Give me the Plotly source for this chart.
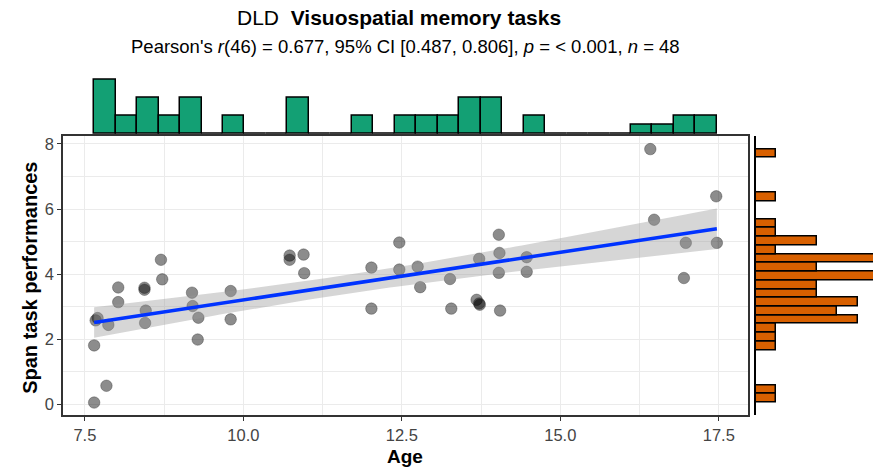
import numpy as np
import plotly.graph_objects as go

# ---- data ----
age = [7.646, 7.84, 7.646, 7.70, 7.67, 7.87, 8.026, 8.026, 8.44, 8.44,
       8.46, 8.45, 8.70, 8.72, 9.19, 9.20, 9.29, 9.28, 9.80, 9.80,
       10.73, 10.73, 10.95, 10.96, 12.02, 12.02, 12.46, 12.46, 12.75, 12.79,
       13.26, 13.28, 13.72, 13.68, 13.73, 13.72, 14.03, 14.04, 14.03, 14.05,
       14.47, 14.47, 16.42, 16.48, 16.98, 16.95, 17.46, 17.47]
span = [0.055, 0.57, 1.81, 2.65, 2.58, 2.44, 3.14, 3.59, 3.58, 3.52,
        2.88, 2.50, 4.44, 3.84, 3.43, 3.02, 2.66, 1.99, 3.48, 2.61,
        4.57, 4.44, 4.60, 4.03, 4.20, 2.94, 4.97, 4.14, 4.23, 3.60,
        3.85, 2.94, 4.47, 3.21, 3.06, 3.10, 5.21, 4.65, 4.04, 2.88,
        4.52, 4.07, 7.84, 5.67, 4.96, 3.88, 6.39, 4.96]
x_ticks = [7.5, 10.0, 12.5, 15.0, 17.5]
y_ticks = [0, 2, 4, 6, 8]
n_bins = 29
t_crit = 2.0129  # t(0.975, df = 46)

title_txt = "DLD  <b>Visuospatial memory tasks</b>"
subtitle_txt = ("Pearson's <i>r</i>(46) = 0.677, 95% CI [0.487, 0.806], "
                "<i>p</i> = < 0.001, <i>n</i> = 48")
x_label = "Age"
y_label = "Span task performances"

# ---- layout geometry (pixels) ----
W, H = 873, 469
FONT = "Liberation Sans, Arial, sans-serif"

def fx(p):
    return p / W

def fy(p):
    return 1 - p / H

main_l, main_r, main_t, main_b = 63, 748, 135, 415

x = np.array(age)
y = np.array(span)
n = len(x)

# linear fit + 95% CI
b1, b0 = np.polyfit(x, y, 1)
xg = np.linspace(x.min(), x.max(), 100)
yg = b0 + b1 * xg
resid = y - (b0 + b1 * x)
s = np.sqrt(np.sum(resid ** 2) / (n - 2))
sxx = np.sum((x - x.mean()) ** 2)
se = s * np.sqrt(1 / n + (xg - x.mean()) ** 2 / sxx)
lo, hi = yg - t_crit * se, yg + t_crit * se

# axis ranges (ggplot 5% expansion)
xr = [x.min() - 0.05 * (x.max() - x.min()), x.max() + 0.05 * (x.max() - x.min())]
yr = [y.min() - 0.05 * (y.max() - y.min()), y.max() + 0.05 * (y.max() - y.min())]

# marginal histograms
cx, ex = np.histogram(x, bins=n_bins)
cy, ey = np.histogram(y, bins=n_bins)

fig = go.Figure()

fig.add_trace(go.Scatter(
    x=x, y=y, mode="markers",
    marker=dict(size=11.5, color="rgba(0,0,0,0.45)",
                line=dict(width=0.8, color="rgba(40,40,40,0.45)")),
    hoverinfo="skip", showlegend=False))

fig.add_trace(go.Scatter(
    x=np.concatenate([xg, xg[::-1]]), y=np.concatenate([hi, lo[::-1]]),
    fill="toself", fillcolor="rgba(153,153,153,0.4)", line=dict(width=0),
    mode="lines", hoverinfo="skip", showlegend=False))

fig.add_trace(go.Scatter(
    x=xg, y=yg, mode="lines", line=dict(color="#0033ff", width=3.5),
    hoverinfo="skip", showlegend=False))

fig.add_trace(go.Bar(
    x=(ex[:-1] + ex[1:]) / 2, y=cx, width=np.diff(ex),
    xaxis="x2", yaxis="y2",
    marker=dict(color="#13a074", line=dict(color="black", width=1.5)),
    hoverinfo="skip", showlegend=False))

fig.add_trace(go.Bar(
    y=(ey[:-1] + ey[1:]) / 2, x=cy, width=np.diff(ey), orientation="h",
    xaxis="x3", yaxis="y3",
    marker=dict(color="#d86000", line=dict(color="black", width=1.5)),
    hoverinfo="skip", showlegend=False))

grid = "#ebebeb"
fig.update_layout(
    width=W, height=H,
    margin=dict(l=0, r=0, t=0, b=0),
    paper_bgcolor="white", plot_bgcolor="white",
    bargap=0,
    font=dict(family=FONT, color="#333333"),
    xaxis=dict(
        domain=[fx(main_l), fx(main_r)], range=xr,
        tickmode="array", tickvals=x_ticks,
        ticktext=[f"{v:.1f}" for v in x_ticks],
        ticks="outside", ticklen=4, tickcolor="#333333", tickwidth=1.2,
        tickfont=dict(size=16.5, color="#444444"),
        showline=True, mirror=True, linecolor="#333333", linewidth=1.6,
        showgrid=True, gridcolor=grid, gridwidth=1.2,
        minor=dict(tickmode="array", tickvals=[8.75, 11.25, 13.75, 16.25],
                   showgrid=True, gridcolor=grid, gridwidth=1.0, ticks=""),
        zeroline=False, anchor="y"),
    yaxis=dict(
        domain=[fy(main_b), fy(main_t)], range=yr,
        tickmode="array", tickvals=y_ticks,
        ticks="outside", ticklen=4, tickcolor="#333333", tickwidth=1.2,
        tickfont=dict(size=16.5, color="#444444"),
        showline=True, mirror=True, linecolor="#333333", linewidth=1.6,
        showgrid=True, gridcolor=grid, gridwidth=1.2,
        minor=dict(tickmode="array", tickvals=[1, 3, 5, 7],
                   showgrid=True, gridcolor=grid, gridwidth=1.0, ticks=""),
        zeroline=False, anchor="x"),
    xaxis2=dict(
        domain=[fx(main_l), fx(main_r)], matches="x", anchor="y2",
        showgrid=False, showticklabels=False, ticks="", zeroline=False,
        showline=False),
    yaxis2=dict(
        domain=[fy(132.5), fy(75)], range=[0, 57.5 / 9], anchor="x2",
        showgrid=False, showticklabels=False, ticks="", zeroline=False,
        showline=False),
    xaxis3=dict(
        domain=[fx(756), 1.0], range=[0, 117 / 20.3], anchor="y3",
        showgrid=False, showticklabels=False, ticks="", zeroline=False,
        showline=False),
    yaxis3=dict(
        domain=[fy(main_b), fy(main_t)], matches="y", anchor="x3",
        showgrid=False, showticklabels=False, ticks="", zeroline=False,
        showline=True, linecolor="black", linewidth=1.5, side="left"),
    annotations=[
        dict(text=title_txt, x=fx(399), y=fy(16), xref="paper", yref="paper",
             xanchor="center", yanchor="middle", showarrow=False,
             font=dict(size=21, color="black", family=FONT)),
        dict(text=subtitle_txt, x=fx(405), y=fy(45), xref="paper", yref="paper",
             xanchor="center", yanchor="middle", showarrow=False,
             font=dict(size=18.5, color="black", family=FONT)),
        dict(text=f"<b>{x_label}</b>", x=fx(405), y=fy(456), xref="paper",
             yref="paper", xanchor="center", yanchor="middle", showarrow=False,
             font=dict(size=19, color="black", family=FONT)),
        dict(text=f"<b>{y_label}</b>", x=fx(30), y=fy(277), xref="paper",
             yref="paper", xanchor="center", yanchor="middle", showarrow=False,
             textangle=-90, font=dict(size=20, color="black", family=FONT)),
    ],
)

fig.write_html("out.html", config={"displayModeBar": False},
               post_script="document.body.style.margin='0px';")
